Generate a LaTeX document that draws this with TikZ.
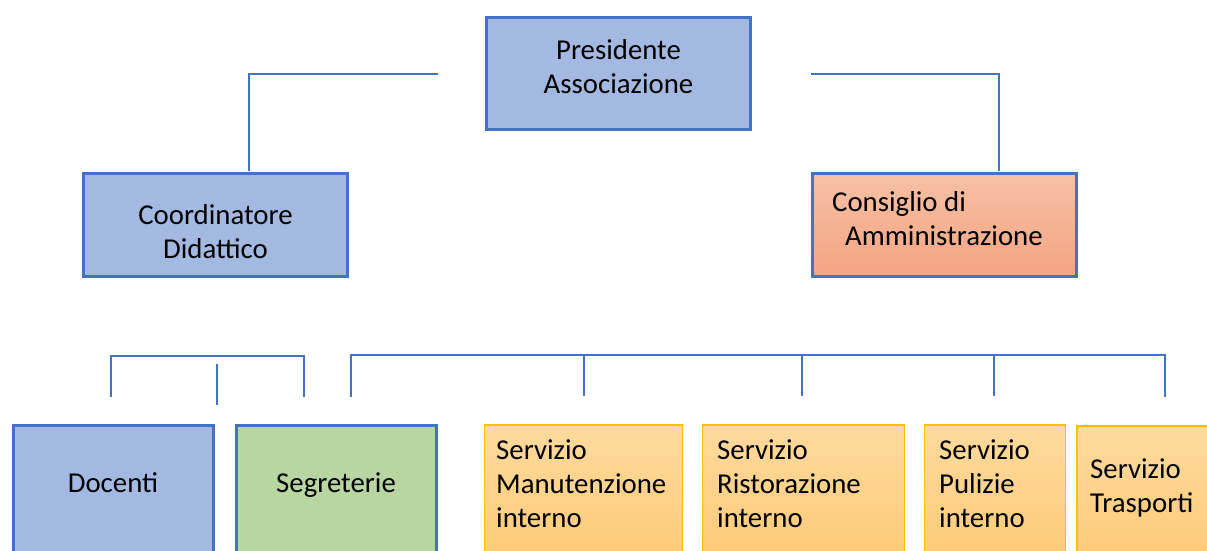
\documentclass[tikz,border=0pt]{standalone}
\usepackage{fontspec}
\setmainfont{Carlito}
\usepackage{xcolor}
\usetikzlibrary{positioning}

\definecolor{frameblue}{HTML}{4472C4}
\definecolor{boxblue}{HTML}{A3B9E1}
\definecolor{boxgreen}{HTML}{B8D6A2}
\definecolor{frameyellow}{HTML}{FFC000}
\definecolor{yellowtop}{HTML}{FFDA9E}
\definecolor{yellowbot}{HTML}{FDCA76}
\definecolor{orangetop}{HTML}{F6C1A5}
\definecolor{orangebot}{HTML}{F4A482}

\tikzset{
    orgbox/.style={rectangle, draw=frameblue, line width=3pt, inner sep=0pt},
    servbox/.style={rectangle, draw=frameyellow, line width=1.2pt, inner sep=0pt,
        top color=yellowtop, bottom color=yellowbot},
    boxtext/.style={inner sep=0pt, font=\fontsize{28.8}{34}\selectfont},
    conn/.style={draw=frameblue, line width=2.7pt}
}

\begin{document}
\begin{tikzpicture}[x=1pt, y=-1pt]
    \useasboundingbox (0,0) rectangle (1207,550);
    \clip (0,0) rectangle (1207,550);

    % top level
    \node[orgbox, fill=boxblue, minimum width=264, minimum height=112] (pres) at (618.5,73.5) {};
    \node[orgbox, fill=boxblue, minimum width=264, minimum height=103] (coord) at (215.5,224.5) {};
    \node[orgbox, top color=orangetop, bottom color=orangebot, minimum width=264, minimum height=103] (cons) at (944.5,224.5) {};

    \node[boxtext, align=center] (prestxt) at (618.5,67) {Presidente\\Associazione};
    \node[boxtext, align=center] (coordtxt) at (215.5,232) {Coordinatore\\Didattico};
    \node[boxtext, align=left, anchor=west] (constxt) at (832,219) {Consiglio di\\\hspace*{13pt}Amministrazione};

    \coordinate (presL) at (438,74);
    \coordinate (presR) at (811,74);
    \coordinate (coordN) at (249,171);
    \coordinate (consN) at (999,171);
    \draw[conn] (presL) -| (coordN);
    \draw[conn] (presR) -| (consN);

    % bottom level
    \node[orgbox, fill=boxblue, minimum width=200, minimum height=140] (doc) at (113,495) {};
    \node[orgbox, fill=boxgreen, minimum width=200, minimum height=140] (seg) at (336,495) {};
    \node[servbox, minimum width=198, minimum height=140] (manut) at (583.5,495) {};
    \node[servbox, minimum width=202, minimum height=140] (ristor) at (803.5,495) {};
    \node[servbox, minimum width=141, minimum height=140] (puliz) at (995,495) {};
    \node[servbox, minimum width=140, minimum height=140] (trasp) at (1147,496) {};

    \node[boxtext, anchor=base] (doctxt) at (113,492) {Docenti};
    \node[boxtext, anchor=base] (segtxt) at (336,492) {Segreterie};
    \node[boxtext, align=left, anchor=west] (manuttxt) at (496,484) {Servizio\\Manutenzione\\interno};
    \node[boxtext, align=left, anchor=west] (ristortxt) at (717,484) {Servizio\\Ristorazione\\interno};
    \node[boxtext, align=left, anchor=west] (puliztxt) at (939,484) {Servizio\\Pulizie\\interno};
    \node[boxtext, align=left, anchor=west] (trasptxt) at (1090,488) {Servizio\\Trasporti};

    % brackets
    \coordinate (docB) at (111,397);
    \coordinate (segB) at (304,397);
    \coordinate (stubT) at (217,364);
    \coordinate (stubB) at (217,405);
    \draw[conn] (docB) -- ++(0,-41) -| (segB);
    \draw[conn] (stubT) -- (stubB);

    \coordinate (servL) at (351,397);
    \coordinate (servR) at (1165,397);
    \draw[conn] (servL) -- ++(0,-42) -| (servR);
    \foreach \x in {584,802,994}
        \draw[conn] (\x,355) -- (\x,396);
\end{tikzpicture}
\end{document}
